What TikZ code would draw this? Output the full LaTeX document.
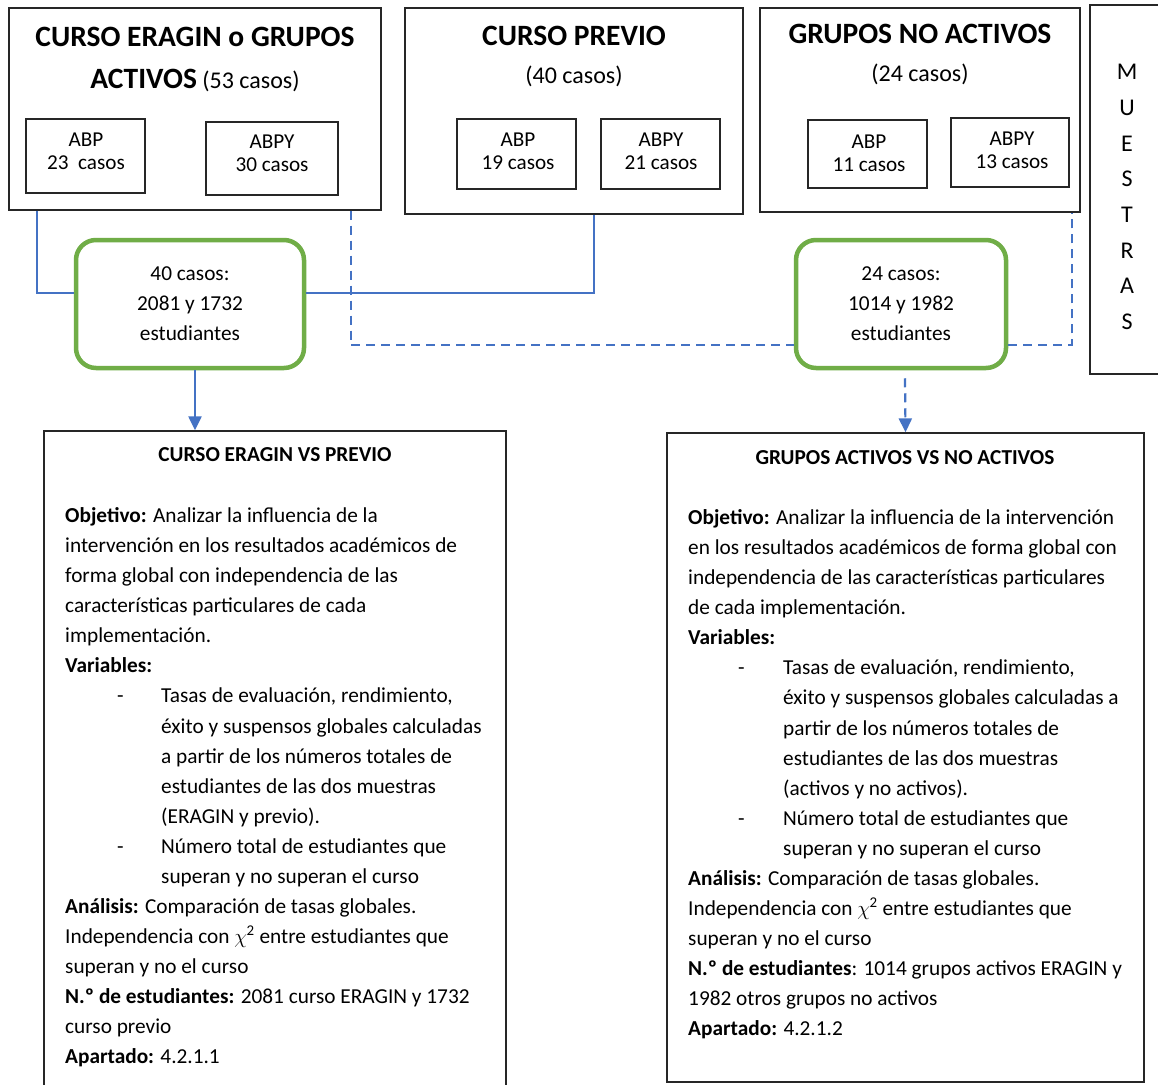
\documentclass[tikz,border=0pt]{standalone}
\usepackage{fontspec}
\setmainfont{Carlito}
\usetikzlibrary{arrows.meta}
\definecolor{linkblue}{HTML}{4472C4}
\definecolor{boxgreen}{HTML}{70AD47}
\newcommand{\chisq}{$\chi$\kern-0.5pt\textsuperscript{2}}

\begin{document}
\begin{tikzpicture}[x=1pt,y=-1pt,
  frame/.style={draw=black!85, line width=1.3pt, inner sep=0pt},
  lbl/.style={align=center, inner sep=0pt, font=\fontsize{21.2}{23}\selectfont},
  hub/.style={draw=boxgreen, line width=4.5pt, rounded corners=20pt, inner sep=0pt,
              align=center, font=\fontsize{21.3}{30}\selectfont},
  link/.style={draw=linkblue, line width=2.2pt},
  dlink/.style={link, dash pattern=on 9pt off 6pt},
  tip/.style={-{Triangle[width=13pt,length=14pt]}},
  ttl/.style={align=center, inner sep=0pt},
  body/.style={align=left, inner sep=0pt, anchor=north west, font=\fontsize{21.3}{30.05}\selectfont},
]
\useasboundingbox (0,0) rectangle (1158,1084);
\clip (0,0) rectangle (1158,1084);
\fill[white] (0,0) rectangle (1158,1084);

% --- sample groups (top row) ---
\node[frame, minimum width=372pt, minimum height=202pt] (boxA) at (195,109) {};
\node[ttl, font=\fontsize{24}{42}\selectfont] (titA) at (195,59)
  {{\fontsize{29.5}{30}\selectfont\bfseries CURSO ERAGIN o GRUPOS}\\
   {\fontsize{29.5}{30}\selectfont\bfseries ACTIVOS} (53 casos)};
\node[frame, minimum width=119pt, minimum height=74pt] (abpA) at (85.5,156) {};
\node[lbl] (abpAt) at (86,151) {ABP\\23~~casos};
\node[frame, minimum width=132pt, minimum height=73pt] (abpyA) at (272,158.5) {};
\node[lbl] (abpyAt) at (272,153) {ABPY\\30 casos};

\node[frame, minimum width=338pt, minimum height=206pt] (boxB) at (574,111) {};
\node[ttl, font=\fontsize{24}{38}\selectfont] (titB) at (574,56.5)
  {{\fontsize{29.5}{30}\selectfont\bfseries CURSO PREVIO}\\(40 casos)};
\node[frame, minimum width=119pt, minimum height=70pt] (abpB) at (516.5,154) {};
\node[lbl] (abpBt) at (518,151) {ABP\\19 casos};
\node[frame, minimum width=119pt, minimum height=70pt] (abpyB) at (660.5,154) {};
\node[lbl] (abpyBt) at (661,151) {ABPY\\21 casos};

\node[frame, minimum width=320pt, minimum height=204pt] (boxC) at (920,110) {};
\node[ttl, font=\fontsize{24}{38}\selectfont] (titC) at (920,54.5)
  {{\fontsize{29.5}{30}\selectfont\bfseries GRUPOS NO ACTIVOS}\\(24 casos)};
\node[frame, minimum width=119pt, minimum height=68pt] (abpC) at (867.5,154) {};
\node[lbl] (abpCt) at (869,153) {ABP\\11 casos};
\node[frame, minimum width=118pt, minimum height=69pt] (abpyC) at (1010,152.5) {};
\node[lbl] (abpyCt) at (1012,150) {ABPY\\13 casos};

% --- side label ---
\node[frame, minimum width=80pt, minimum height=369pt] (muestras) at (1130,189.5) {};
\node[ttl, font=\fontsize{24}{35.7}\selectfont] (muestrasT) at (1127,197)
  {M\\U\\E\\S\\T\\R\\A\\S};

% --- merged samples ---
\node[hub, minimum width=228pt, minimum height=128pt] (g1) at (190,304)
  {40 casos:\\2081 y 1732\\estudiantes};
\node[hub, minimum width=210pt, minimum height=128pt] (g2) at (901,304)
  {24 casos:\\1014 y 1982\\estudiantes};

% --- analysis boxes ---
\node[frame, minimum width=462pt, minimum height=664pt] (lowL) at (275,763) {};
\node[ttl, font=\fontsize{21.3}{22}\selectfont\bfseries] (lowLt) at (275,455)
  {CURSO ERAGIN VS PREVIO};
\node[body] (lowLb) at (65,507.5) {%
\textbf{Objetivo:} Analizar la influencia de la\\
intervención en los resultados académicos de\\
forma global con independencia de las\\
características particulares de cada\\
implementación.\\
\textbf{Variables:}\\
\makebox[96pt][l]{\hspace*{52pt}-}Tasas de evaluación, rendimiento,\\
\hspace*{96pt}éxito y suspensos globales calculadas\\
\hspace*{96pt}a partir de los números totales de\\
\hspace*{96pt}estudiantes de las dos muestras\\
\hspace*{96pt}(ERAGIN y previo).\\
\makebox[96pt][l]{\hspace*{52pt}-}Número total de estudiantes que\\
\hspace*{96pt}superan y no superan el curso\\
\textbf{Análisis:} Comparación de tasas globales.\\
Independencia con \chisq{} entre estudiantes que\\
superan y no el curso\\
\textbf{N.º de estudiantes:} 2081 curso ERAGIN y 1732\\
curso previo\\
\textbf{Apartado:} 4.2.1.1};

\node[frame, minimum width=477pt, minimum height=649pt] (lowR) at (905.5,757.5) {};
\node[ttl, font=\fontsize{21.3}{22}\selectfont\bfseries] (lowRt) at (905,458)
  {GRUPOS ACTIVOS VS NO ACTIVOS};
\node[body] (lowRb) at (688,509.5) {%
\textbf{Objetivo:} Analizar la influencia de la intervención\\
en los resultados académicos de forma global con\\
independencia de las características particulares\\
de cada implementación.\\
\textbf{Variables:}\\
\makebox[95pt][l]{\hspace*{50pt}-}Tasas de evaluación, rendimiento,\\
\hspace*{95pt}éxito y suspensos globales calculadas a\\
\hspace*{95pt}partir de los números totales de\\
\hspace*{95pt}estudiantes de las dos muestras\\
\hspace*{95pt}(activos y no activos).\\
\makebox[95pt][l]{\hspace*{50pt}-}Número total de estudiantes que\\
\hspace*{95pt}superan y no superan el curso\\
\textbf{Análisis:} Comparación de tasas globales.\\
Independencia con \chisq{} entre estudiantes que\\
superan y no el curso\\
\textbf{N.º de estudiantes}: 1014 grupos activos ERAGIN y\\
1982 otros grupos no activos\\
\textbf{Apartado:} 4.2.1.2};

% --- connectors: course comparison (solid) ---
\draw[link] ([xshift=29pt]boxA.south west) |- ([yshift=11pt]g1.west);
\draw[link] ([yshift=11pt]g1.east) -| ([xshift=-150pt]boxB.south east);
\draw[link, tip] ([xshift=5pt]g1.south) -- ([xshift=-80pt]lowL.north);

% --- connectors: group comparison (dashed) ---
\draw[dlink] ([xshift=-31pt]boxA.south east) |- ([yshift=-41pt]g2.west);
\draw[dlink] ([yshift=-41pt]g2.east) -| ([xshift=-9pt]boxC.south east);
\draw[dlink, tip] ([xshift=4pt,yshift=-8pt]g2.south) -- (lowR.north);
\end{tikzpicture}
\end{document}
